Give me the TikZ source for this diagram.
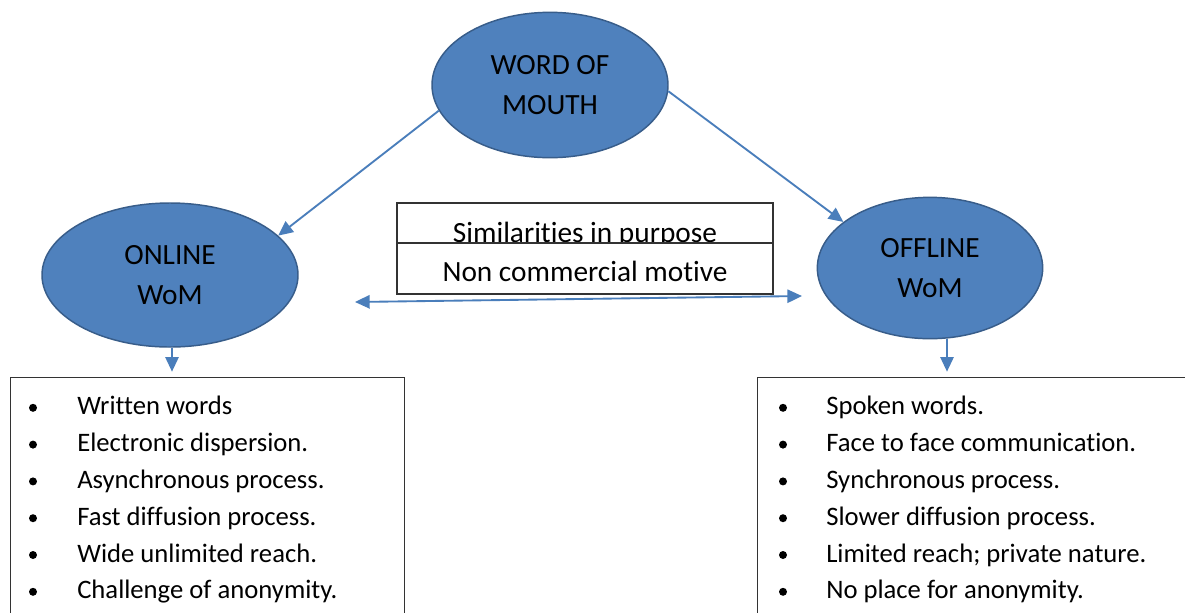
\documentclass[tikz,border=0pt]{standalone}
\usepackage{fontspec}
\setmainfont{Carlito}[Ligatures={NoCommon}]
\usetikzlibrary{shapes.geometric,arrows.meta}
\definecolor{womblue}{HTML}{4F81BD}
\definecolor{womedge}{HTML}{385D8A}
\definecolor{linkblue}{HTML}{4A7EBB}
\begin{document}
\begin{tikzpicture}[x=0.75pt,y=-0.75pt,
  bubble/.style={ellipse, draw=womedge, fill=womblue, line width=1.1pt, inner sep=0pt, align=center, font=\fontsize{22}{30.5}\selectfont},
  link/.style={draw=linkblue, line width=1.4pt, -{Triangle[length=11pt,width=10pt]}},
  panel/.style={draw=black!80, line width=0.8pt, inner sep=0pt},
  txt/.style={inner sep=0pt, font=\fontsize{22}{26}\selectfont},
  item/.style={inner sep=0pt, font=\fontsize{20}{24}\selectfont, anchor=base west}]
\useasboundingbox[fill=white] (0,0) rectangle (1185,612);

\coordinate (lend) at (355,302);
\coordinate (rend) at (802,296);

\node[bubble, minimum width=177pt, minimum height=109pt] (wom) at (550,85) {WORD OF\\MOUTH};
\node[bubble, minimum width=192pt, minimum height=108pt] (online) at (170,275) {ONLINE\\WoM};
\node[bubble, minimum width=169pt, minimum height=106pt] (offline) at (930,268) {OFFLINE\\WoM};

\node[panel, minimum width=282pt, minimum height=30pt] (simbox) at (585,223) {};
\node[txt, anchor=base] (sim) at (585,242) {Similarities in purpose};
\node[panel, fill=white, minimum width=282pt, minimum height=38.25pt] (ncbox) at (585,268.5) {};
\node[txt, anchor=base] (nc) at (585,281) {Non commercial motive};

\node[panel, anchor=north west, minimum width=295.5pt, minimum height=200pt] (onlist) at (10,377) {};
\node[panel, anchor=north west, minimum width=330pt, minimum height=200pt] (offlist) at (757,377) {};

\draw[link] (wom.193) -- (online.20);
\draw[link] (wom.357) -- (offline.152);
\draw[link, {Triangle[length=11pt,width=10pt]}-{Triangle[length=11pt,width=10pt]}] (lend) -- (rend);
\draw[link, shorten >=4pt] (online.south -| 172,0) -- (172,377);
\draw[link, shorten >=4pt] (offline.south -| 947,0) -- (947,377);

\foreach \t [count=\i] in {Written words, Electronic dispersion., Asynchronous process., Fast diffusion process., Wide unlimited reach., Challenge of anonymity.} {
  \fill (33,371+\i*36.8) circle[radius=3pt];
  \node[item] (on\i) at (77,378+\i*36.8) {\t};
}
\foreach \t [count=\i] in {Spoken words., Face to face communication., Synchronous process., Slower diffusion process., Limited reach; private nature., No place for anonymity.} {
  \fill (783,371+\i*36.8) circle[radius=3pt];
  \node[item] (off\i) at (826,378+\i*36.8) {\t};
}
\end{tikzpicture}
\end{document}
